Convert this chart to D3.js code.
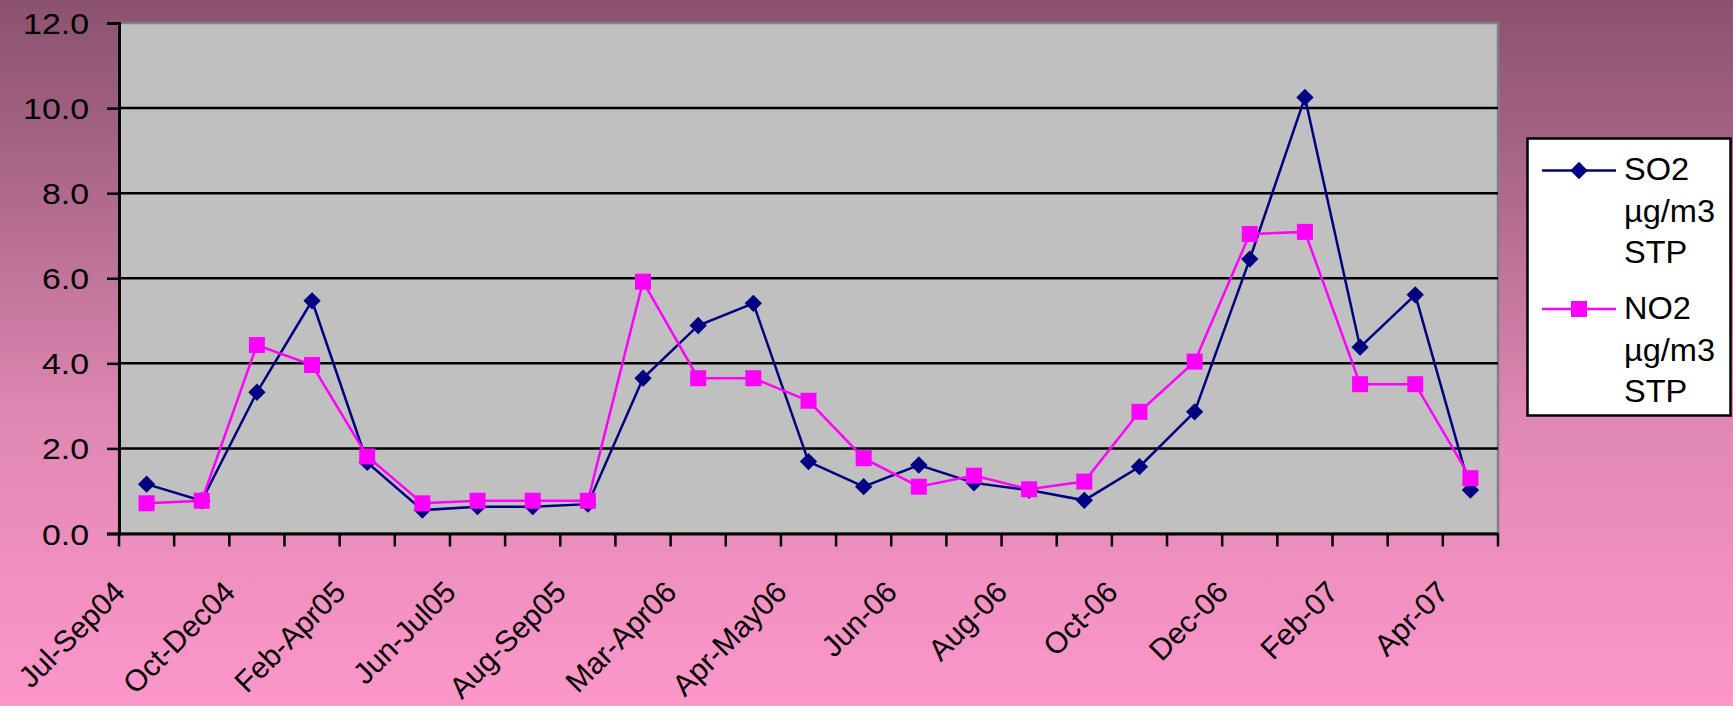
<!DOCTYPE html>
<html>
<head>
<meta charset="utf-8">
<script src="https://cdn.jsdelivr.net/npm/d3@7"></script>
<style>
  html, body { margin: 0; padding: 0; }
  svg { display: block; }
  text { font-family: Arial, "Liberation Sans", sans-serif; }
</style>
</head>
<body>
<svg id="chart" width="1733" height="706"></svg>
<script>
// ---- data ----
const tickLabels = ["Jul-Sep04", "Oct-Dec04", "Feb-Apr05", "Jun-Jul05", "Aug-Sep05",
  "Mar-Apr06", "Apr-May06", "Jun-06", "Aug-06", "Oct-06", "Dec-06", "Feb-07", "Apr-07"];
const categoryCount = 25;
const so2 = [1.16, 0.77, 3.32, 5.47, 1.67, 0.55, 0.63, 0.63, 0.69, 3.65, 4.89, 5.41, 1.69,
  1.10, 1.61, 1.19, 1.02, 0.78, 1.57, 2.86, 6.45, 10.25, 4.38, 5.61, 1.02];
const no2 = [0.71, 0.77, 4.43, 3.96, 1.81, 0.71, 0.77, 0.77, 0.77, 5.92, 3.65, 3.65, 3.12,
  1.77, 1.10, 1.36, 1.04, 1.22, 2.86, 4.04, 7.04, 7.09, 3.51, 3.51, 1.30];
const yTicks = [0, 2, 4, 6, 8, 10, 12];
const seriesNames = [["SO2", "µg/m3", "STP"], ["NO2", "µg/m3", "STP"]];

// ---- layout ----
const W = 1733, H = 706;
const L = 119, R = 1498, T = 23, B = 533.5;
const FONT = "Arial, 'Liberation Sans', sans-serif";
const svg = d3.select("#chart");

const defs = svg.append("defs");
const grad = defs.append("linearGradient").attr("id", "bg")
  .attr("x1", 0).attr("y1", 0).attr("x2", 0).attr("y2", 1);
[[0, "#8b5270"], [0.17, "#a0607f"], [0.6, "#e088b4"], [1, "#fd97ca"]].forEach(([o, c]) =>
  grad.append("stop").attr("offset", o).attr("stop-color", c));
svg.append("rect").attr("width", W).attr("height", H).attr("fill", "url(#bg)");

const idx = Array.from({length: categoryCount}, (_, i) => i);
const x = d3.scaleBand().domain(idx).range([L, R]).padding(0);
const y = d3.scaleLinear().domain([0, 12]).range([B, T]);
const cx = i => x(i) + x.bandwidth() / 2;

// plot area
svg.append("rect").attr("x", L).attr("y", T).attr("width", R - L).attr("height", B - T)
  .attr("fill", "#c0c0c0").attr("stroke", "#808080").attr("stroke-width", 2.5);

// gridlines
svg.append("g").selectAll("line").data(yTicks.filter(v => v > 0 && v < 12)).join("line")
  .attr("x1", L).attr("x2", R).attr("y1", d => y(d)).attr("y2", d => y(d))
  .attr("stroke", "#000").attr("stroke-width", 2.5);

// y axis
const yAxis = svg.append("g").attr("transform", `translate(${L},0)`)
  .call(d3.axisLeft(y).tickValues(yTicks).tickFormat(d3.format(".1f")).tickSize(12));
yAxis.select(".domain").attr("stroke", "#000").attr("stroke-width", 3);
yAxis.selectAll(".tick line").attr("stroke", "#000").attr("stroke-width", 2.5);
yAxis.selectAll(".tick text").attr("font-size", 30).attr("fill", "#000")
  .attr("font-family", FONT).attr("x", 0).attr("dy", "0.35em")
  .attr("transform", "translate(-30,0) scale(1.13,1)");

// x axis
const xAxis = svg.append("g").attr("transform", `translate(0,${B})`)
  .call(d3.axisBottom(x).tickSize(0).tickFormat(i => i % 2 === 0 ? tickLabels[i / 2] : ""));
xAxis.select(".domain").attr("stroke", "#000").attr("stroke-width", 3);
xAxis.selectAll(".tick").filter(i => i % 2 === 1).remove();
xAxis.selectAll(".tick text")
  .attr("font-size", 30).attr("fill", "#000")
  .attr("font-family", FONT)
  .attr("text-anchor", "end").attr("y", 0).attr("dy", 0)
  .attr("transform", "translate(-20,60.5) rotate(-45)");
// tick marks at band boundaries
const bounds = idx.map(i => x(i)).concat([R]);
svg.append("g").selectAll("line").data(bounds).join("line")
  .attr("x1", d => d).attr("x2", d => d).attr("y1", B).attr("y2", B + 13)
  .attr("stroke", "#000").attr("stroke-width", 2.5);

// lines
const line = d3.line().x((d, i) => cx(i)).y(d => y(d));
svg.append("path").datum(so2).attr("d", line).attr("fill", "none")
  .attr("stroke", "#000080").attr("stroke-width", 2.5);
svg.append("path").datum(no2).attr("d", line).attr("fill", "none")
  .attr("stroke", "#ff00ff").attr("stroke-width", 2.5);

const diamond = d3.symbol().type(d3.symbolSquare).size(150);
const square = d3.symbol().type(d3.symbolSquare).size(256);
svg.append("g").selectAll("path").data(so2).join("path")
  .attr("d", diamond).attr("fill", "#000080")
  .attr("transform", (d, i) => `translate(${cx(i)},${y(d)}) rotate(45)`);
svg.append("g").selectAll("path").data(no2).join("path")
  .attr("d", square).attr("fill", "#ff00ff")
  .attr("transform", (d, i) => `translate(${cx(i)},${y(d)})`);

// legend
const lg = svg.append("g");
lg.append("rect").attr("x", 1527.5).attr("y", 138.5).attr("width", 203).attr("height", 277)
  .attr("fill", "#fff").attr("stroke", "#000").attr("stroke-width", 2.5);
const legendItems = [
  {names: seriesNames[0], color: "#000080", sym: "d", ly: 170.5, ty: 180},
  {names: seriesNames[1], color: "#ff00ff", sym: "s", ly: 309, ty: 319}
];
legendItems.forEach(it => {
  lg.append("line").attr("x1", 1542).attr("x2", 1616).attr("y1", it.ly).attr("y2", it.ly)
    .attr("stroke", it.color).attr("stroke-width", 2.5);
  lg.append("path").attr("d", it.sym === "d" ? diamond() : square()).attr("fill", it.color)
    .attr("transform", `translate(1579,${it.ly})` + (it.sym === "d" ? " rotate(45)" : ""));
  it.names.forEach((t, k) => {
    lg.append("text")
      .attr("transform", `translate(1624,${it.ty + k * 41.5}) scale(1.05,1)`)
      .attr("font-size", 31).attr("font-family", FONT).attr("fill", "#000").text(t);
  });
});
</script>
</body>
</html>
